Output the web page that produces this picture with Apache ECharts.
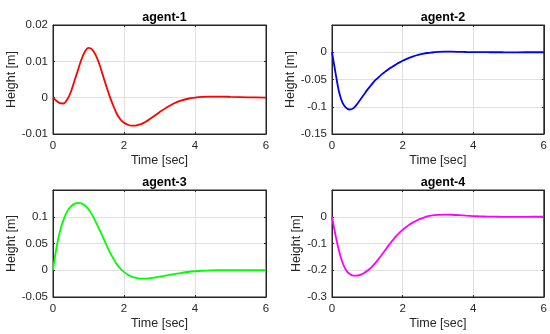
<!DOCTYPE html>
<html>
<head>
<meta charset="utf-8">
<script src="https://cdn.jsdelivr.net/npm/echarts@6/dist/echarts.min.js"></script>
<style>html,body{margin:0;padding:0;background:#fff}#c{width:550px;height:334px}</style>
</head>
<body>
<div id="c"></div>
<script>
// Time samples [sec]
const time = [0,0.1,0.2,0.3,0.4,0.5,0.6,0.7,0.8,0.9,1.0,1.1,1.2,1.3,1.4,1.5,1.6,1.7,1.8,1.9,2.0,2.1,2.2,2.3,2.4,2.5,2.6,2.7,2.8,2.9,3.0,3.2,3.4,3.6,3.8,4.0,4.2,4.4,4.6,4.8,5.0,5.5,6.0];

const agent1 = [0,-0.0009,-0.0015,-0.0016,-0.0005,0.0015,0.0045,0.0075,0.0105,0.0127,0.0137,0.0133,0.0118,0.0094,0.0063,0.0032,0.0003,-0.0023,-0.0045,-0.0060,-0.0069,-0.0074,-0.0077,-0.0077,-0.0075,-0.0072,-0.0067,-0.0061,-0.0054,-0.0047,-0.0040,-0.0027,-0.0016,-0.0008,-0.0003,0.0000,0.0002,0.0003,0.0003,0.0003,0.0002,0.0001,0.0];

const agent2 = [0,-0.038,-0.073,-0.093,-0.102,-0.105,-0.103,-0.096,-0.087,-0.078,-0.069,-0.061,-0.053,-0.047,-0.041,-0.036,-0.031,-0.027,-0.023,-0.019,-0.0155,-0.0125,-0.0098,-0.0075,-0.0055,-0.0039,-0.0025,-0.0014,-0.0005,0.0001,0.0006,0.0010,0.0010,0.0008,0.0005,0.0003,0.0002,0.0001,0,0,-0.0001,0,0];

const agent3 = [0,0.043,0.074,0.095,0.110,0.119,0.124,0.126,0.125,0.121,0.114,0.104,0.091,0.077,0.063,0.048,0.034,0.022,0.011,0.003,-0.003,-0.008,-0.0115,-0.0138,-0.015,-0.0155,-0.0155,-0.015,-0.0142,-0.0132,-0.012,-0.0097,-0.0073,-0.0052,-0.0033,-0.0019,-0.0009,-0.0002,0.0002,0.0004,0.0004,0.0002,0.0];

const agent4 = [0,-0.069,-0.128,-0.172,-0.200,-0.214,-0.220,-0.220,-0.217,-0.211,-0.202,-0.191,-0.177,-0.161,-0.144,-0.126,-0.108,-0.091,-0.075,-0.061,-0.049,-0.038,-0.029,-0.021,-0.014,-0.008,-0.003,0.001,0.004,0.006,0.007,0.008,0.0075,0.006,0.004,0.0025,0.0013,0.0005,0.0001,-0.0002,-0.0003,-0.0001,0.0];

const titles = ['agent-1','agent-2','agent-3','agent-4'];
const colors = ['#ff0000','#0000ff','#00ff00','#ff00ff'];
const series = [agent1, agent2, agent3, agent4];
const yMin = [-0.01,-0.15,-0.05,-0.3];
const yMax = [0.02,0.05,0.15,0.1];
const yStep = [0.01,0.05,0.05,0.1];
const xTicks = {min:0, max:6, interval:2};
const xName = 'Time [sec]';
const yName = 'Height [m]';

const FONT = '"Liberation Sans", Helvetica, Arial, sans-serif';
const grids = [
  {left:53, top:25, width:213, height:109},
  {left:332, top:25, width:212, height:109},
  {left:53, top:190, width:213, height:107},
  {left:332, top:190, width:212, height:107}
];
const yNameGap = [32,32,32,27];
const axisColor = '#262626';

const option = {
  animation:false,
  backgroundColor:'#ffffff',
  title: titles.map((t,i)=>({
    text:t,
    left: grids[i].left + grids[i].width/2,
    top: grids[i].top - 19,
    textAlign:'center',
    textStyle:{fontFamily:FONT,fontSize:12.5,fontWeight:'bold',color:'#000'}
  })),
  grid: grids.map(g=>Object.assign({show:true,borderColor:axisColor,borderWidth:1,backgroundColor:'#fff'},g)),
  xAxis: [],
  yAxis: [],
  series: []
};

for (let i=0;i<4;i++){
  option.xAxis.push({
    type:'value', gridIndex:i, min:xTicks.min, max:xTicks.max, interval:xTicks.interval,
    name:xName, nameLocation:'middle', nameGap:20,
    nameTextStyle:{fontFamily:FONT,fontSize:12.5,color:axisColor},
    axisLine:{show:true,onZero:false,lineStyle:{color:axisColor,width:1}},
    axisTick:{show:true,inside:true,length:2,lineStyle:{color:axisColor}},
    axisLabel:{fontFamily:FONT,fontSize:11.5,color:axisColor,margin:6},
    splitLine:{show:true,lineStyle:{color:'#e0e0e0',width:1}}
  });
  option.xAxis.push({
    type:'value', gridIndex:i, position:'top', min:xTicks.min, max:xTicks.max, interval:xTicks.interval,
    axisLine:{show:true,onZero:false,lineStyle:{color:axisColor,width:1}},
    axisTick:{show:true,inside:true,length:2,lineStyle:{color:axisColor}},
    axisLabel:{show:false}, splitLine:{show:false}
  });
  option.yAxis.push({
    type:'value', gridIndex:i, min:yMin[i], max:yMax[i], interval:yStep[i],
    name:yName, nameLocation:'middle', nameGap:yNameGap[i],
    nameTextStyle:{fontFamily:FONT,fontSize:12.5,color:axisColor},
    axisLine:{show:true,onZero:false,lineStyle:{color:axisColor,width:1}},
    axisTick:{show:true,inside:true,length:2,lineStyle:{color:axisColor}},
    axisLabel:{fontFamily:FONT,fontSize:11.5,color:axisColor,margin:5,showMaxLabel: i===0,
      formatter:v=>String(parseFloat(v.toFixed(4)))},
    splitLine:{show:true,lineStyle:{color:'#e0e0e0',width:1}}
  });
  option.yAxis.push({
    type:'value', gridIndex:i, position:'right', min:yMin[i], max:yMax[i], interval:yStep[i],
    axisLine:{show:true,onZero:false,lineStyle:{color:axisColor,width:1}},
    axisTick:{show:true,inside:true,length:2,lineStyle:{color:axisColor}},
    axisLabel:{show:false}, splitLine:{show:false}
  });
  option.series.push({
    type:'line', xAxisIndex:2*i, yAxisIndex:2*i,
    data: time.map((t,k)=>[t, series[i][k]]),
    showSymbol:false, smooth:0.3,
    lineStyle:{color:colors[i],width:1.8},
    itemStyle:{color:colors[i]}
  });
}

const chart = echarts.init(document.getElementById('c'), null, {renderer:'canvas'});
chart.setOption(option);
</script>
</body>
</html>
